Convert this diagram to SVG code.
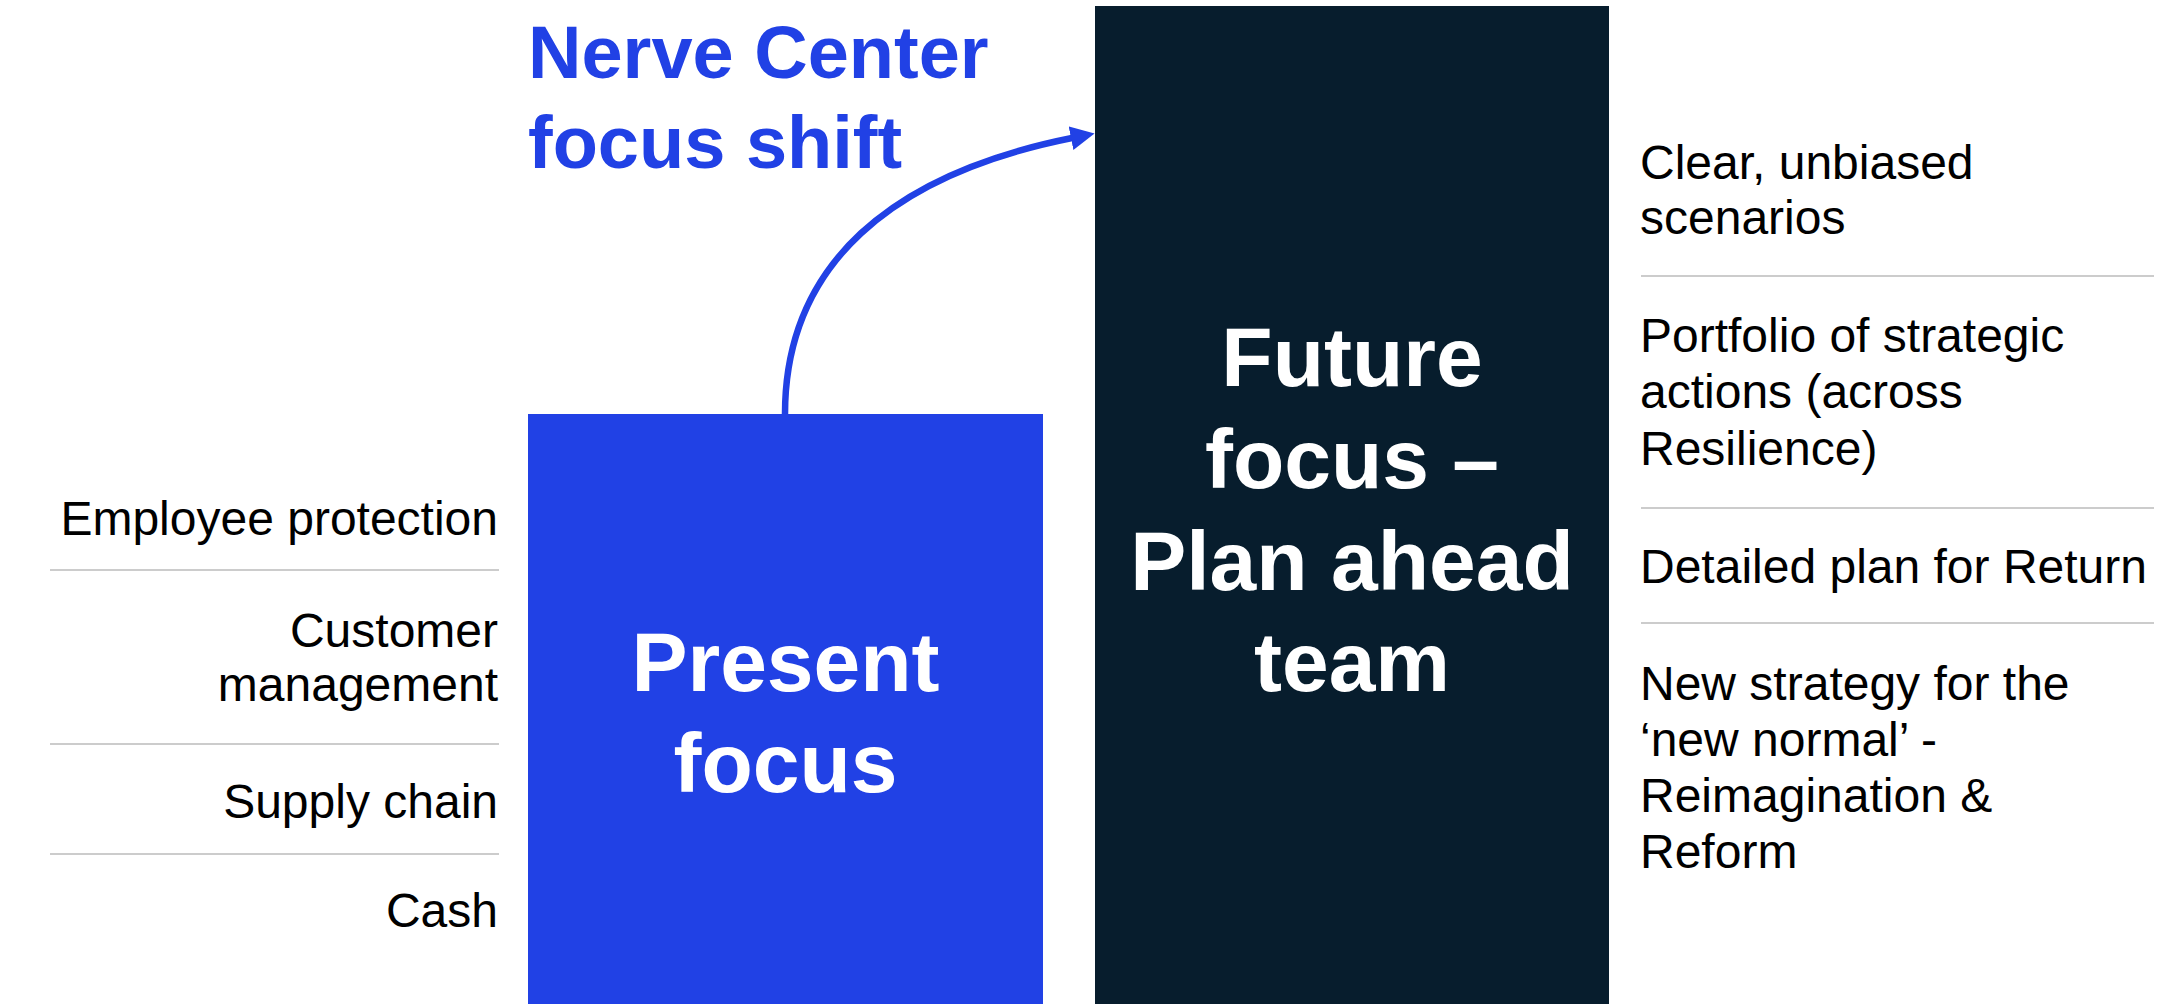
<svg xmlns="http://www.w3.org/2000/svg" width="2168" height="1004" viewBox="0 0 2168 1004">
  <style>
    .title { font-family: "Liberation Sans", Arial, sans-serif; font-weight: bold; font-size: 74px; fill: #2141E5; }
    .box-label { font-family: "Liberation Sans", Arial, sans-serif; font-weight: bold; font-size: 84px; fill: #FFFFFF; text-anchor: middle; }
    .item { font-family: "Liberation Sans", Arial, sans-serif; font-size: 48px; fill: #000000; }
    .left { text-anchor: end; }
    .sep { stroke: #CCCCCC; stroke-width: 2; }
    .conn { fill: none; stroke: #2141E5; stroke-width: 6.5; }
  </style>
  <defs>
    <marker id="arrow" markerUnits="userSpaceOnUse" markerWidth="26" markerHeight="26" refX="1" refY="12" orient="auto">
      <path d="M0,0 L24,12 L0,24 z" fill="#2141E5"/>
    </marker>
  </defs>
  <rect x="0" y="0" width="2168" height="1004" fill="#FFFFFF"/>

  <g id="title">
    <text class="title" x="528" y="78">Nerve Center</text>
    <text class="title" x="528" y="168">focus shift</text>
  </g>

  <g id="present-focus">
    <rect x="528" y="414" width="515" height="590" fill="#2141E5"/>
    <text class="box-label" x="785.5" y="691">Present</text>
    <text class="box-label" x="785.5" y="792">focus</text>
  </g>

  <g id="future-focus">
    <rect x="1095" y="6" width="514" height="998" fill="#071D2D"/>
    <text class="box-label" x="1352" y="386">Future</text>
    <text class="box-label" x="1352" y="488">focus –</text>
    <text class="box-label" x="1352" y="590">Plan ahead</text>
    <text class="box-label" x="1352" y="691">team</text>
  </g>

  <g id="present-items">
    <g id="item-employee"><text class="item left" x="498" y="535">Employee protection</text></g>
    <line class="sep" x1="50" y1="570" x2="499" y2="570"/>
    <g id="item-customer">
      <text class="item left" x="498" y="647">Customer</text>
      <text class="item left" x="498" y="701">management</text>
    </g>
    <line class="sep" x1="50" y1="744" x2="499" y2="744"/>
    <g id="item-supply"><text class="item left" x="498" y="818">Supply chain</text></g>
    <line class="sep" x1="50" y1="854" x2="499" y2="854"/>
    <g id="item-cash"><text class="item left" x="498" y="927">Cash</text></g>
  </g>

  <g id="future-items">
    <g id="item-scenarios">
      <text class="item" x="1640" y="179">Clear, unbiased</text>
      <text class="item" x="1640" y="234">scenarios</text>
    </g>
    <line class="sep" x1="1641" y1="276" x2="2154" y2="276"/>
    <g id="item-portfolio">
      <text class="item" x="1640" y="352">Portfolio of strategic</text>
      <text class="item" x="1640" y="408">actions (across</text>
      <text class="item" x="1640" y="465">Resilience)</text>
    </g>
    <line class="sep" x1="1641" y1="508" x2="2154" y2="508"/>
    <g id="item-return"><text class="item" x="1640" y="583">Detailed plan for Return</text></g>
    <line class="sep" x1="1641" y1="623" x2="2154" y2="623"/>
    <g id="item-strategy">
      <text class="item" x="1640" y="700">New strategy for the</text>
      <text class="item" x="1640" y="756">‘new normal’ -</text>
      <text class="item" x="1640" y="812">Reimagination &amp;</text>
      <text class="item" x="1640" y="868">Reform</text>
    </g>
  </g>

  <g id="connectors">
    <path class="conn" d="M785,414 C785,264 892,174 1072,138" marker-end="url(#arrow)"/>
  </g>
</svg>
